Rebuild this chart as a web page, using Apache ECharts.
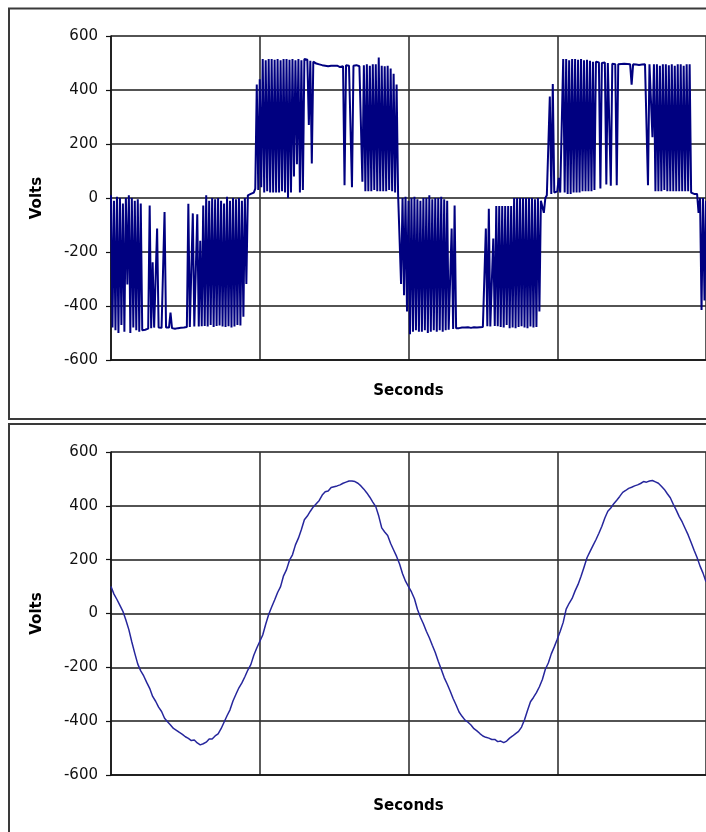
<!DOCTYPE html>
<html><head><meta charset="utf-8">
<script src="https://cdn.jsdelivr.net/npm/echarts@6/dist/echarts.min.js"></script>
<style>html,body{margin:0;padding:0;background:#fff}#c{width:706px;height:832px}</style>
</head><body><div id="c"></div>
<script>
// y tick values (Volts)
const yTicks = [-600, -400, -200, 0, 200, 400, 600];
const xDivisions = 4;
const pwmSamplesPerDivision = 100;
const filteredSamplesPerDivision = 50;
const xTitle = 'Seconds';
const yTitle = 'Volts';

// Top trace: PWM inverter output voltage (samples)
const pwmVolts = [
  10, -480, -10, -490, 5, -500, 0, -470, -20, -495,
  0, -320, 10, -500, 0, -480, -10, -490, -5, -495,
  -20, -490, -485, -488, -485, -484, -28, -482, -238, -480,
  -482, -113, -480, -482, -481, -480, -52, -480, -481, -480,
  -424, -482, -484, -484, -483, -482, -482, -481, -480, -480,
  -479, -478, -21, -478, -476, -57, -476, -475, -60, -476,
  -158, -475, -28, -474, 10, -476, -10, -470, 0, -478,
  -5, -474, 0, -472, -10, -476, -20, -478, 5, -475,
  -10, -480, 0, -476, -5, -470, 0, -472, -10, -440,
  0, -318, 10, 5, 15, 10, 20, 35, 420, 30,
  440, 40, 515, 20, 510, 25, 515, 20, 515, 20,
  512, 20, 515, 20, 510, 25, 515, 20, 515, 0,
  512, 20, 515, 80, 510, 125, 515, 20, 510, 30,
  515, 510, 512, 270, 508, 128, 505, 500, 498, 500,
  495, 497, 492, 495, 490, 493, 488, 492, 490, 488,
  490, 486, 490, 488, 485, 490, 488, 47, 492, 495,
  490, 488, 40, 490, 488, 492, 490, 488, 492, 60,
  492, 25, 495, 25, 490, 25, 495, 30, 495, 25,
  520, 25, 490, 25, 488, 25, 490, 30, 480, 25,
  460, 20, 420, 15, 10, -318, 0, -360, 5, -420,
  -10, -505, 0, -495, 5, -490, -5, -495, -10, -495,
  0, -490, 0, -500, 10, -495, -5, -490, 0, -495,
  0, -490, 5, -495, -5, -490, -10, -488, -485, -113,
  -485, -28, -482, -480, -482, -481, -480, -482, -480, -481,
  -479, -480, -481, -480, -479, -478, -480, -478, -479, -477,
  -478, -476, -113, -475, -40, -476, -474, -150, -474, -30,
  -475, -30, -478, -30, -480, -30, -470, -30, -482, -30,
  -480, 0, -482, 0, -478, 0, -475, 0, -480, 0,
  -482, 0, -476, 0, -480, -5, -478, 0, -420, -10,
  -15, -55, 0, 10, 10, 376, 15, 422, 20, 20,
  25, 75, 20, 15, 515, 20, 515, 15, 510, 15,
  515, 20, 515, 20, 512, 20, 515, 25, 510, 25,
  512, 25, 508, 25, 505, 30, 505, 503, 502, 35,
  500, 500, 502, 50, 500, 498, 45, 497, 498, 495,
  47, 495, 498, 496, 495, 497, 495, 496, 494, 495,
  420, 495, 496, 494, 495, 493, 495, 494, 492, 495,
  494, 47, 495, 490, 225, 495, 25, 495, 25, 490,
  25, 495, 30, 495, 25, 492, 25, 495, 25, 490,
  25, 495, 25, 495, 25, 490, 25, 495, 25, 495,
  20, 15, 15, 15, 15, -55, 0, -415, 0, -380,
  -10
];

// Bottom trace: filtered output voltage (samples)
const filteredVolts = [
  100, 72, 52, 30, 8, -24, -60, -106, -148, -188,
  -213, -232, -256, -278, -308, -326, -348, -364, -389, -402,
  -414, -427, -434, -442, -449, -458, -464, -472, -470, -481,
  -488, -484, -478, -466, -466, -455, -447, -428, -404, -380,
  -358, -325, -300, -276, -258, -235, -210, -190, -155, -128,
  -104, -80, -40, -4, 24, 50, 78, 100, 140, 163,
  198, 218, 255, 280, 312, 348, 362, 380, 396, 408,
  420, 440, 452, 455, 468, 471, 474, 478, 484, 488,
  492, 492, 490, 484, 474, 462, 448, 432, 414, 397,
  362, 318, 303, 290, 260, 236, 212, 184, 148, 120,
  100, 80, 55, 16, -14, -38, -66, -90, -118, -145,
  -177, -207, -238, -262, -288, -316, -340, -366, -382, -396,
  -404, -414, -428, -436, -446, -455, -460, -463, -468, -468,
  -476, -474, -480, -474, -463, -455, -446, -438, -422, -395,
  -360, -328, -312, -294, -272, -245, -207, -184, -150, -124,
  -96, -66, -33, 16, 38, 56, 84, 108, 138, 172,
  207, 230, 252, 274, 298, 324, 355, 380, 392, 408,
  421, 435, 450, 457, 465, 469, 474, 478, 483, 490,
  488, 492, 494, 489, 484, 473, 461, 445, 430, 406,
  384, 360, 340, 316, 292, 264, 235, 208, 176, 150,
  118
];

const FONT = 'DejaVu Sans';
const chart = echarts.init(document.getElementById('c'), null, {renderer: 'canvas'});

function yAxisCfg(gi) {
  return {
    type: 'value', gridIndex: gi,
    min: yTicks[0], max: yTicks[yTicks.length - 1], interval: yTicks[1] - yTicks[0],
    name: yTitle, nameLocation: 'middle', nameGap: 66,
    nameTextStyle: {fontFamily: FONT, fontWeight: 'bold', fontSize: 15, color: '#000'},
    axisLine: {show: true, lineStyle: {color: '#111', width: 1.5}},
    axisTick: {show: true, length: 5, lineStyle: {color: '#111', width: 1.2}},
    axisLabel: {margin: 13, fontFamily: FONT, fontSize: 15, color: '#111'},
    splitLine: {show: true, lineStyle: {color: '#1a1a1a', width: 1.5}}
  };
}
function xAxisCfg(gi, perDiv) {
  return {
    type: 'value', gridIndex: gi,
    min: 0, max: perDiv * xDivisions, interval: perDiv,
    name: xTitle, nameLocation: 'middle', nameGap: 24,
    nameTextStyle: {fontFamily: FONT, fontWeight: 'bold', fontSize: 15, color: '#000'},
    axisLine: {show: true, onZero: false, lineStyle: {color: '#111', width: 1.5}},
    axisTick: {show: false},
    axisLabel: {show: false},
    splitLine: {show: true, lineStyle: {color: '#333', width: 1.6}}
  };
}

chart.setOption({
  animation: false,
  backgroundColor: '#fff',
  graphic: [
    {type: 'rect', silent: true, shape: {x: 9, y: 8.5, width: 760, height: 410.5},
     style: {fill: 'transparent', stroke: '#3a3a3a', lineWidth: 2}},
    {type: 'rect', silent: true, shape: {x: 9, y: 424, width: 760, height: 480},
     style: {fill: 'transparent', stroke: '#3a3a3a', lineWidth: 2}}
  ],
  grid: [
    {left: 111, top: 36, width: 595, height: 324},
    {left: 111, top: 452, width: 595, height: 323}
  ],
  xAxis: [xAxisCfg(0, pwmSamplesPerDivision), xAxisCfg(1, filteredSamplesPerDivision)],
  yAxis: [yAxisCfg(0), yAxisCfg(1)],
  series: [
    {type: 'line', xAxisIndex: 0, yAxisIndex: 0, symbol: 'none', sampling: null,
     data: pwmVolts.map((v, i) => [i, v]),
     lineStyle: {color: '#000080', width: 2}, z: 3},
    {type: 'line', xAxisIndex: 1, yAxisIndex: 1, symbol: 'none',
     data: filteredVolts.map((v, i) => [i, v]),
     lineStyle: {color: '#26269c', width: 1.5}, z: 3}
  ]
});
</script>
</body></html>
